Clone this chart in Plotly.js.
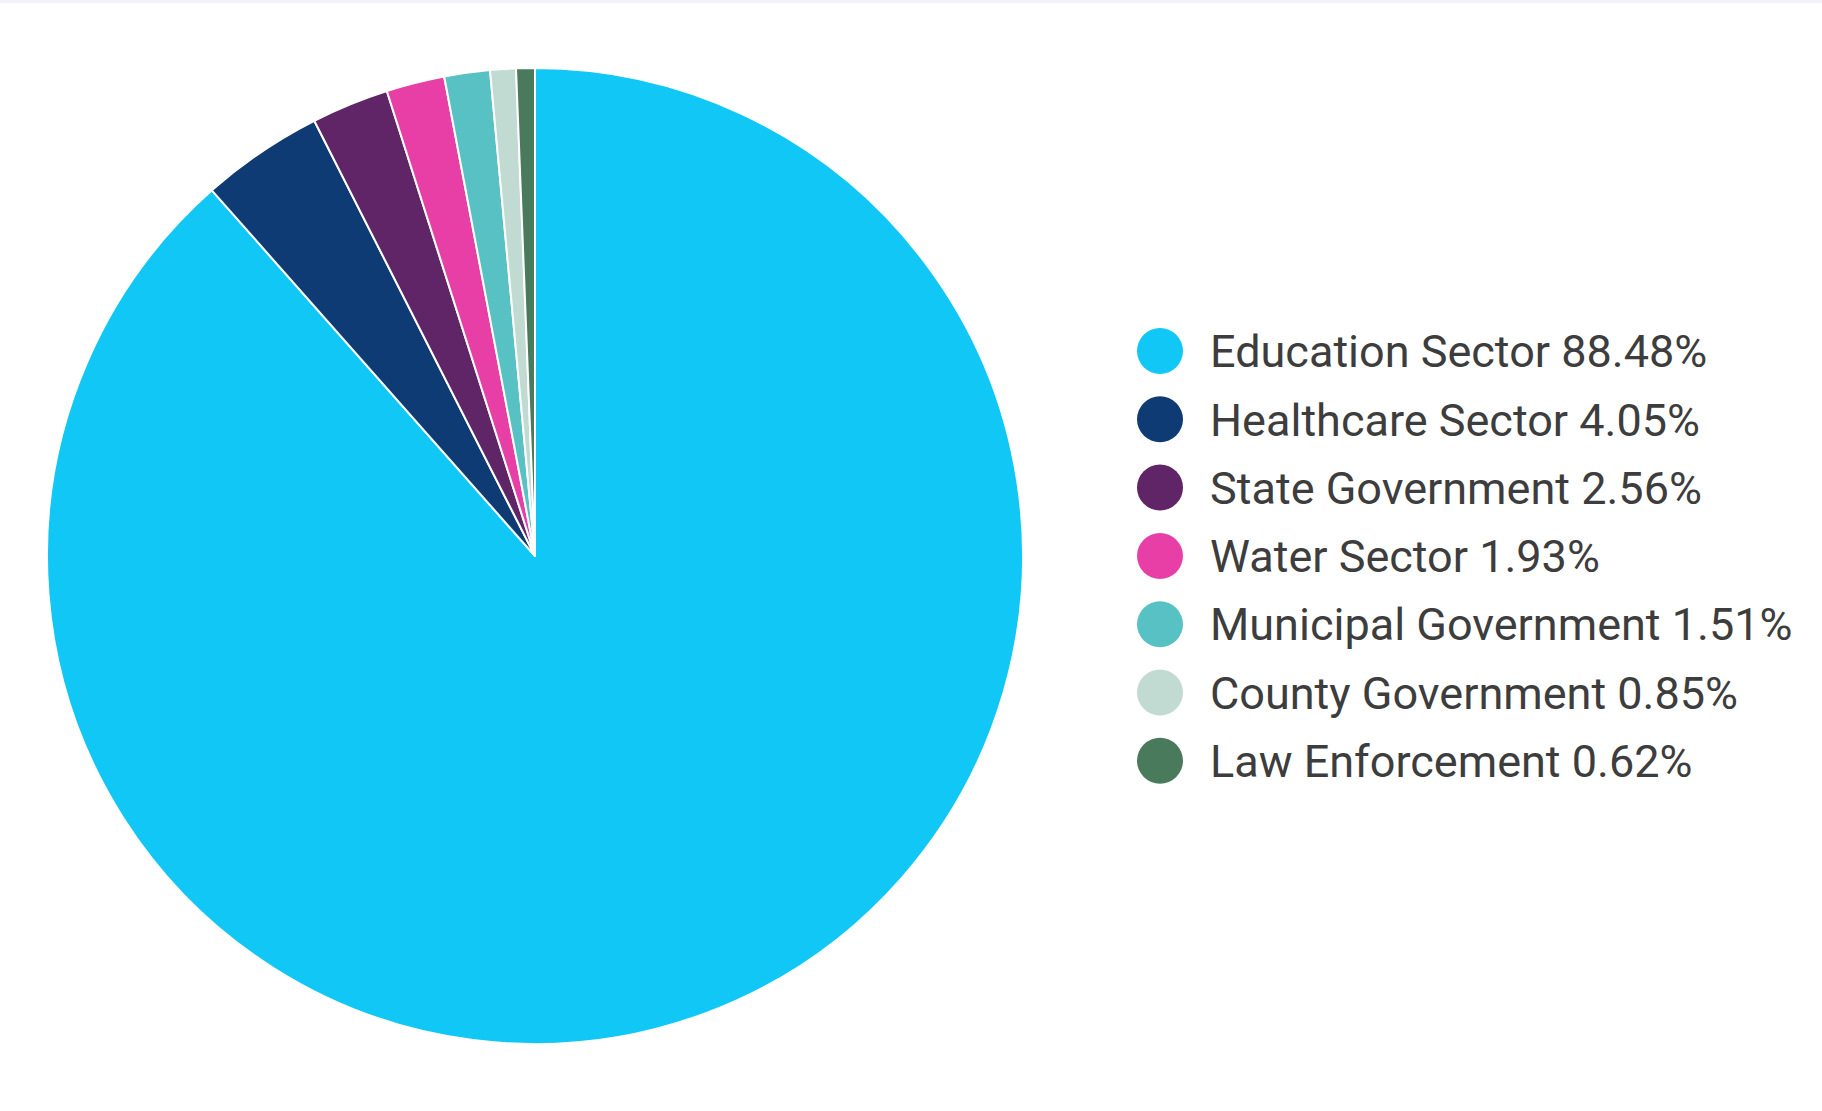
<!DOCTYPE html>
<html>
<head>
<meta charset="utf-8">
<script src="https://cdn.plot.ly/plotly-3.0.1.min.js"></script>
<style>
  html, body { margin: 0; padding: 0; background: #ffffff; }
  #chart { width: 1822px; height: 1111px; }
</style>
</head>
<body>
<div id="chart"></div>
<script>
// ---- Data ----
const categories = [
  "Education Sector",
  "Healthcare Sector",
  "State Government",
  "Water Sector",
  "Municipal Government",
  "County Government",
  "Law Enforcement"
];
const shares = [88.48, 4.05, 2.56, 1.93, 1.51, 0.85, 0.62];
const colors = ["#11c7f5", "#0e3b73", "#5f2566", "#e83fa6", "#58c1c3", "#c1dad2", "#497a5c"];

// ---- Layout constants ----
const W = 1822, H = 1111;
const pieCx = 535, pieCy = 556, pieR = 488;
const legLeft = 1130;
const rowTop = 351, rowStep = 68.3;
const textRowTop = 356;

const legendLabels = categories.map((c, i) => c + " " + shares[i].toFixed(2) + "%");
const rowIndex = categories.map((c, i) => i);

const pie = {
  type: "pie",
  labels: categories,
  values: shares,
  sort: false,
  direction: "clockwise",
  rotation: 0,
  textinfo: "none",
  hoverinfo: "label+percent",
  marker: { colors: colors, line: { color: "#ffffff", width: 2 } },
  domain: {
    x: [(pieCx - pieR) / W, (pieCx + pieR) / W],
    y: [(H - pieCy - pieR) / H, (H - pieCy + pieR) / H]
  },
  showlegend: false
};

const legendMarkers = {
  type: "scatter",
  mode: "markers",
  x: categories.map(() => 30),
  y: rowIndex,
  marker: { symbol: "circle", size: 46, color: colors, line: { width: 0 } },
  hoverinfo: "skip",
  showlegend: false,
  xaxis: "x",
  yaxis: "y"
};

const legendText = {
  type: "scatter",
  mode: "text",
  x: categories.map(() => 80),
  y: rowIndex,
  text: legendLabels,
  textposition: "middle right",
  textfont: { family: "Roboto, 'Noto Sans', sans-serif", size: 45, color: "#3d3d3d" },
  hoverinfo: "skip",
  showlegend: false,
  xaxis: "x",
  yaxis: "y2"
};

const layout = {
  width: W,
  height: H,
  margin: { l: 0, r: 0, t: 0, b: 0, pad: 0 },
  paper_bgcolor: "#ffffff",
  plot_bgcolor: "rgba(0,0,0,0)",
  showlegend: false,
  font: { family: "Roboto, sans-serif" },
  xaxis: {
    domain: [legLeft / W, 1],
    range: [0, W - legLeft],
    visible: false,
    fixedrange: true
  },
  yaxis: {
    domain: [0, 1],
    range: [(H - rowTop) / rowStep, -rowTop / rowStep],
    visible: false,
    fixedrange: true
  },
  yaxis2: {
    overlaying: "y",
    range: [(H - textRowTop) / rowStep, -textRowTop / rowStep],
    visible: false,
    fixedrange: true
  },
  shapes: [{
    type: "rect", xref: "paper", yref: "paper",
    x0: 0, x1: 1, y0: 1 - 3 / H, y1: 1,
    fillcolor: "#f2f3f9", line: { width: 0 }, layer: "below"
  }]
};

Plotly.newPlot("chart", [pie, legendMarkers, legendText], layout, { displayModeBar: false, staticPlot: true });
</script>
</body>
</html>
